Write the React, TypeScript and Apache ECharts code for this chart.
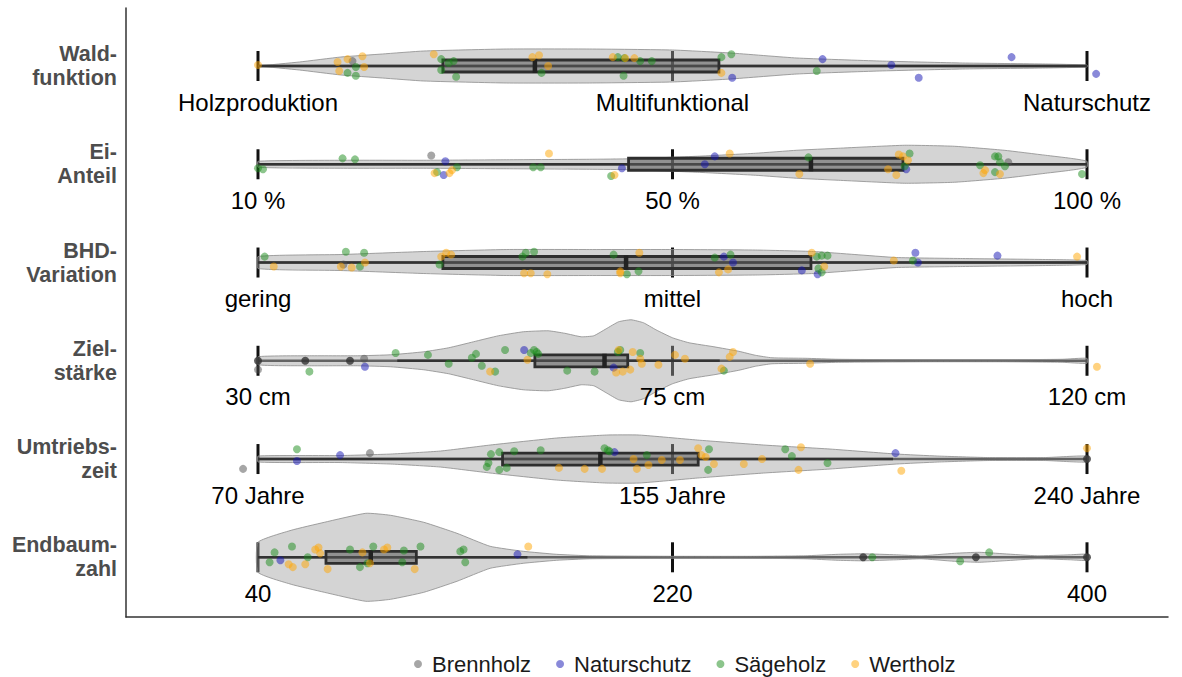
import React, { useEffect, useRef } from "react";
import * as echarts from "echarts";

// ---------- data ----------
const rowLabels = ["Wald-\nfunktion", "Ei-\nAnteil", "BHD-\nVariation", "Ziel-\nstärke", "Umtriebs-\nzeit", "Endbaum-\nzahl"];
const tickPositions = [0, 0.5, 1];
const tickLabels = [
  ["Holzproduktion", "Multifunktional", "Naturschutz"],
  ["10 %", "50 %", "100 %"],
  ["gering", "mittel", "hoch"],
  ["30 cm", "75 cm", "120 cm"],
  ["70 Jahre", "155 Jahre", "240 Jahre"],
  ["40", "220", "400"],
];
// [whiskerLow, q1, median, q3, whiskerHigh] (normalised scale 0..1)
const boxStats = [
  [0, 0.223, 0.334, 0.556, 1],
  [0, 0.447, 0.667, 0.778, 1],
  [0, 0.223, 0.444, 0.667, 1],
  [0.168, 0.334, 0.418, 0.446, 0.557],
  [0, 0.295, 0.413, 0.531, 0.766],
  [0, 0.082, 0.136, 0.191, 0.325],
];
const outliers = [[], [], [], [0, 0.057, 0.111], [1], [0.73, 0.866, 1]];
// violin density: [value, density]
const violins = [
  [[0, 0], [0.05, 4], [0.1, 9], [0.15, 12], [0.2, 15], [0.3, 17], [0.4, 17], [0.5, 16], [0.57, 13], [0.65, 8], [0.75, 5], [0.85, 3], [0.95, 2], [1, 1]],
  [[0, 3], [0.1, 4], [0.2, 4], [0.3, 4.5], [0.4, 5], [0.45, 5.5], [0.53, 8], [0.6, 11], [0.65, 14], [0.7, 16], [0.78, 19], [0.84, 18], [0.9, 14], [0.95, 9], [0.98, 6], [1, 3]],
  [[0, 6], [0.1, 8], [0.2, 11], [0.3, 13], [0.4, 13], [0.5, 13], [0.6, 12.5], [0.67, 11], [0.72, 8], [0.77, 5], [0.85, 4], [0.95, 3], [1, 2]],
  [[0, 4], [0.06, 5], [0.12, 5], [0.16, 6], [0.2, 9], [0.23, 13], [0.26, 19], [0.29, 25], [0.32, 29], [0.35, 30], [0.37, 27.5], [0.39, 24], [0.405, 25], [0.42, 32], [0.435, 39], [0.45, 41], [0.465, 38], [0.48, 31], [0.5, 23], [0.52, 18], [0.55, 14], [0.58, 9.5], [0.6, 5.5], [0.62, 3], [0.66, 2.5], [0.7, 1.5], [0.8, 1], [0.9, 1], [0.97, 1.5], [1, 2.5]],
  [[0, 3], [0.1, 3.5], [0.16, 5], [0.22, 8], [0.28, 14], [0.36, 21], [0.42, 24], [0.46, 24], [0.53, 19], [0.61, 14], [0.69, 10], [0.77, 5], [0.82, 3], [0.88, 1.5], [0.95, 1.5], [1, 3]],
  [[0, 15], [0.04, 27], [0.08, 35], [0.13, 44], [0.16, 42], [0.2, 35], [0.24, 24], [0.28, 11], [0.32, 6], [0.36, 3], [0.4, 1.5], [0.5, 1], [0.6, 1], [0.66, 1.5], [0.7, 3], [0.73, 3.5], [0.77, 2.5], [0.8, 1.5], [0.84, 4], [0.87, 5], [0.9, 3.5], [0.94, 1.5], [0.98, 2.5], [1, 3]],
];
const groups = ["Brennholz", "Naturschutz", "Sägeholz", "Wertholz"];
// per group, per row: [value, jitter (hundredths of a row)]
const brennholz = [
  [[0.114, -5]],
  [[0.209, -9], [0.905, -2]],
  [[0.103, 2]],
  [[0.128, -2], [0, 9]],
  [[-0.018, 10], [0.135, -6]],
  [],
];
const naturschutz = [
  [[0.572, 12], [0.681, -7], [0.764, -1], [0.797, 12], [0.909, -9], [1.011, 8]],
  [[0.226, -3], [0.224, 11], [0.439, 4], [0.551, -8], [0.539, 0], [0.782, 5]],
  [[0.562, -6], [0.573, 0], [0.656, 8], [0.675, 12], [0.793, -10], [0.796, 0], [0.892, -7]],
  [[0.129, 6], [0.321, -11], [0.429, 7]],
  [[0.047, 2], [0.099, -4], [0.43, -7], [0.769, -6]],
  [[0.027, 3], [0.313, -3]],
];
const saegeholz = [
  [[0.108, 7], [0.118, 10], [0.118, 1], [0.221, -7], [0.221, 4], [0.236, -5], [0.239, 11], [0.23, -3], [0.342, 7], [0.434, -9], [0.442, -8], [0.441, 10], [0.461, -5], [0.475, -5], [0.559, -9], [0.571, -12], [0.674, 5]],
  [[0, 4], [0.006, 5], [0.102, -6], [0.117, -5], [0.216, 8], [0.24, 3], [0.332, 3], [0.341, 3], [0.426, 12], [0.664, -7], [0.786, -11], [0.78, 2], [0.871, 1], [0.889, -8], [0.893, -8], [0.895, -2], [0.901, 2], [0.889, 8], [0.994, 10]],
  [[0.008, -6], [0.106, -11], [0.128, -10], [0.123, 4], [0.219, 2], [0.319, -6], [0.323, -10], [0.333, -11], [0.429, -8], [0.445, 12], [0.459, 9], [0.57, -8], [0.551, -5], [0.674, -6], [0.68, -7], [0.687, -7], [0.676, 6], [0.68, 10], [0.79, -2]],
  [[0.062, 11], [0.166, -8], [0.205, -6], [0.23, 3], [0.263, -7], [0.258, -3], [0.27, 5], [0.286, 11], [0.298, -11], [0.333, -11], [0.336, -9], [0.329, -8], [0.338, -7], [0.373, 10], [0.406, 11], [0.434, -9], [0.437, -11], [0.461, -8], [0.562, 10]],
  [[0.047, -10], [0.276, 8], [0.278, 4], [0.281, -5], [0.291, -7], [0.291, 11], [0.3, 9], [0.309, -8], [0.341, -9], [0.418, -11], [0.422, -9], [0.424, -8], [0.469, -4], [0.544, -10], [0.543, 11], [0.636, -10], [0.644, -3], [0.687, 4]],
  [[0.014, 5], [0.02, -5], [0.041, -11], [0.06, 0], [0.111, -8], [0.123, 10], [0.132, 6], [0.139, -11], [0.176, -7], [0.174, 5], [0.196, -11], [0.244, -6], [0.248, -8], [0.25, 5], [0.741, 0], [0.847, 4], [0.882, -5]],
];
const wertholz = [
  [[0, -1], [0.096, -4], [0.098, 5], [0.108, -7], [0.126, -10], [0.128, 1], [0.212, -12], [0.331, -9], [0.339, -11], [0.35, 0], [0.428, -9], [0.443, -8], [0.454, -8], [0.559, 7]],
  [[0.213, 9], [0.231, 9], [0.234, 6], [0.351, -11], [0.43, 11], [0.569, -11], [0.653, 10], [0.773, -10], [0.778, -8], [0.77, 11], [0.784, -4], [0.76, 5], [0.877, 6], [0.875, 9], [0.895, 10]],
  [[0.019, 4], [0.1, 4], [0.113, 5], [0.129, 0], [0.227, -10], [0.233, -8], [0.221, -6], [0.321, 11], [0.329, 11], [0.349, 12], [0.437, 9], [0.46, -10], [0.437, 11], [0.556, 10], [0.567, 7], [0.668, -10], [0.683, 4], [0.767, -2], [0.988, -6]],
  [[0.28, 11], [0.325, -1], [0.432, 12], [0.435, -11], [0.44, 11], [0.449, 9], [0.452, -9], [0.461, -2], [0.463, 3], [0.483, 4], [0.503, -6], [0.515, -2], [0.569, -4], [0.573, -9], [0.559, 8], [0.666, 3], [1.012, 6]],
  [[0.363, 9], [0.394, 10], [0.415, 10], [0.457, 10], [0.471, 6], [0.453, 0], [0.487, 1], [0.509, 1], [0.531, -11], [0.535, -4], [0.54, -2], [0.55, 5], [0.586, 5], [0.608, 0], [0.655, -12], [0.652, 11], [0.776, 12], [1.0, -11]],
  [[0.037, 7], [0.042, 10], [0.057, 7], [0.069, -8], [0.073, -10], [0.075, -4], [0.084, 12], [0.126, -5], [0.135, 6], [0.152, -8], [0.156, -10], [0.189, 12], [0.326, -11]],
];
const groupPoints = [brennholz, naturschutz, saegeholz, wertholz];
const groupColors = ["#4d4d4d", "#1414b4", "#1a8c1a", "#ffa500"];

// ---------- layout ----------
const X_MIN = -0.15923;
const X_MAX = 1.09771;
const Y_MIN = -0.5903;
const Y_MAX = 5.6076;
const DENS = 1 / 98.26; // density -> row units
const FONT = "'Liberation Sans', Arial, sans-serif";

const rowsData = rowLabels.map((_, i) => [i]);

function buildOption() {
  const base = {
    type: "custom",
    z: 1,
    silent: true,
    data: rowsData,
    renderItem: (_p: any, api: any) => {
      const r = api.value(0);
      const [x0, y] = api.coord([0, r]);
      const [x1] = api.coord([1, r]);
      const children: any[] = [
        { type: "line", shape: { x1: x0, y1: y, x2: x1, y2: y }, style: { stroke: "#333", lineWidth: 2.5 } },
      ];
      tickPositions.forEach((t) => {
        const [tx] = api.coord([t, r]);
        children.push({ type: "line", shape: { x1: tx, y1: y - 15, x2: tx, y2: y + 15 }, style: { stroke: "#111", lineWidth: 3 } });
      });
      return { type: "group", children };
    },
  };
  const violin = {
    type: "custom",
    z: 2,
    silent: true,
    data: rowsData,
    renderItem: (_p: any, api: any) => {
      const r = api.value(0);
      const v = violins[r];
      const top = v.map(([x, d]) => api.coord([x, r - d * DENS]));
      const bot = v.slice().reverse().map(([x, d]) => api.coord([x, r + d * DENS]));
      return {
        type: "polygon",
        shape: { points: top.concat(bot), smooth: 0.15 },
        style: { fill: "rgba(160,160,160,0.45)", stroke: "rgba(140,140,140,0.8)", lineWidth: 1 },
      };
    },
  };
  const box = {
    type: "custom",
    z: 3,
    silent: true,
    data: rowsData,
    renderItem: (_p: any, api: any) => {
      const r = api.value(0);
      const [lo, q1, med, q3, hi] = boxStats[r];
      const [xl, y] = api.coord([lo, r]);
      const [xh] = api.coord([hi, r]);
      const [x1] = api.coord([q1, r]);
      const [xm] = api.coord([med, r]);
      const [x3] = api.coord([q3, r]);
      return {
        type: "group",
        children: [
          { type: "line", shape: { x1: xl, y1: y, x2: xh, y2: y }, style: { stroke: "#333", lineWidth: 2.5 } },
          { type: "rect", shape: { x: x1, y: y - 6, width: x3 - x1, height: 12 }, style: { fill: "rgba(90,90,90,0.55)", stroke: "#2e2e2e", lineWidth: 2.8 } },
          { type: "line", shape: { x1: xm, y1: y - 7, x2: xm, y2: y + 7 }, style: { stroke: "#222", lineWidth: 4.5 } },
        ],
      };
    },
  };
  const labels = {
    type: "custom",
    z: 6,
    silent: true,
    data: rowsData,
    renderItem: (_p: any, api: any) => {
      const r = api.value(0);
      const [gx, y] = api.coord([X_MIN, r]);
      const children: any[] = tickPositions.map((t, k) => {
        const [tx] = api.coord([t, r]);
        return {
          type: "text",
          style: { text: tickLabels[r][k], x: tx, y: y + 36, align: "center", verticalAlign: "middle", fontSize: 24, fontFamily: FONT, fill: "#000" },
        };
      });
      children.push({
        type: "text",
        style: { text: rowLabels[r], x: gx - 9, y: y, align: "right", verticalAlign: "middle", fontSize: 21.5, lineHeight: 24, fontWeight: "bold", fontFamily: FONT, fill: "#4d4d4d" },
      });
      return { type: "group", children };
    },
  };
  const outlierSeries = {
    type: "scatter",
    z: 4,
    silent: true,
    symbolSize: 8,
    itemStyle: { color: "#333" },
    data: outliers.flatMap((arr, r) => arr.map((x) => [x, r])),
  };
  const pointSeries = groups.map((g, gi) => ({
    name: g,
    type: "scatter",
    z: 5,
    symbolSize: 8,
    itemStyle: { color: groupColors[gi], opacity: 0.5 },
    data: groupPoints[gi].flatMap((arr, r) => arr.map(([x, j]) => [x, r + j / 100])),
  }));

  return {
    animation: false,
    backgroundColor: "#fff",
    grid: { left: 126, right: 14, top: 8, bottom: 60 },
    xAxis: {
      type: "value",
      min: X_MIN,
      max: X_MAX,
      axisLine: { show: true, onZero: false, lineStyle: { color: "#333", width: 1.5 } },
      axisTick: { show: false },
      axisLabel: { show: false },
      splitLine: { show: false },
    },
    yAxis: {
      type: "value",
      inverse: true,
      min: Y_MIN,
      max: Y_MAX,
      axisLine: { show: true, onZero: false, lineStyle: { color: "#333", width: 1.5 } },
      axisTick: { show: false },
      axisLabel: { show: false },
      splitLine: { show: false },
    },
    legend: {
      data: groups,
      icon: "circle",
      left: 409,
      top: 648,
      itemWidth: 18,
      itemHeight: 8,
      itemGap: 25,
      textStyle: { fontSize: 22, fontFamily: FONT, color: "#1a1a1a" },
    },
    series: [base, violin, box, outlierSeries, ...pointSeries, labels],
  };
}

export default function App() {
  const ref = useRef<HTMLDivElement>(null);
  useEffect(() => {
    const chart = echarts.init(ref.current!, null, { renderer: "svg" });
    chart.setOption(buildOption() as any);
    return () => chart.dispose();
  }, []);
  return <div ref={ref} style={{ position: "fixed", left: 0, top: 0, width: 1182, height: 677, background: "#fff" }} />;
}
